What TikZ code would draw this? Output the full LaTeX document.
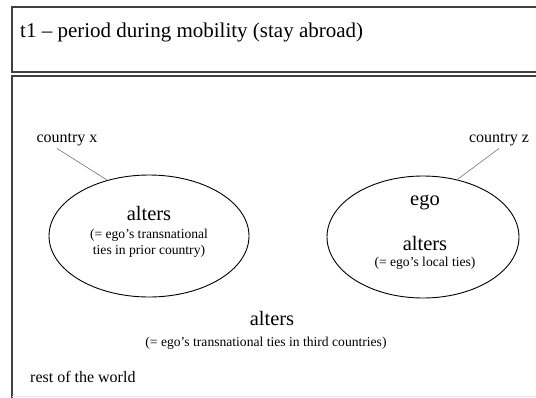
\documentclass[tikz,border=0pt]{standalone}
\usepackage{fontspec}
\setmainfont{Liberation Serif}
\usepackage{tikz}
\usetikzlibrary{shapes.geometric}
\definecolor{framegray}{gray}{.25}
\definecolor{leadgray}{gray}{.45}
\definecolor{fadegray}{gray}{.9}
\newcommand{\bigtxt}{\fontsize{20.5}{22}\selectfont}
\newcommand{\smalltxt}{\fontsize{13.6}{16.5}\selectfont}
\newcommand{\labeltxt}{\fontsize{16}{18}\selectfont}
\tikzset{
    panel/.style={draw=framegray, line width=1.3pt},
    country/.style={draw, ellipse, line width=0.9pt, inner sep=0pt},
    word/.style={inner sep=0pt, font=\bigtxt},
    note/.style={inner sep=0pt, align=center, font=\smalltxt},
    place/.style={inner sep=0pt, font=\labeltxt},
    leader/.style={draw=leadgray, line width=0.6pt}
}
\begin{document}
\begin{tikzpicture}[x=1pt, y=-1pt]
    \useasboundingbox (0,0) rectangle (536,397);
    \clip (0,0) rectangle (536,397);

    % the two panels
    \draw[panel] (12,7) rectangle (570,72);
    \draw[panel] (12,420) -- (12,76) -- (570,76);
    \draw[fadegray, line width=0.8pt] (12,396.5) -- (536,396.5);
    \node[anchor=west, inner sep=0pt, font=\fontsize{21}{22}\selectfont] (title) at (20,32) {t1 -- period during mobility (stay abroad)};

    % country x
    \node[country, minimum width=200pt, minimum height=122pt] (xell) at (149,236) {};
    \node[word] (xalters) at (149,213) {alters};
    \node[note] (xnote) at (149,243) {(= ego’s transnational\\ ties in prior country)};
    \node[place] (xlabel) at (67,140) {country x};
    \coordinate (xtip) at (107,180);

    % country z
    \node[country, minimum width=192pt, minimum height=122pt] (zell) at (423,237) {};
    \node[word] (ego) at (425,202) {ego};
    \node[word] (zalters) at (425,243) {alters};
    \node[note] (znote) at (425,263) {(= ego’s local ties)};
    \node[place] (zlabel) at (499,140) {country z};
    \coordinate (ztip) at (458,179);

    % rest of the world
    \node[word] (walters) at (272,318) {alters};
    \node[note] (wnote) at (266,343) {(= ego’s transnational ties in third countries)};
    \node[place, anchor=west] (world) at (30,377) {rest of the world};

    \draw[leader] ([xshift=-10pt, yshift=-2pt]xlabel.south) -- (xtip);
    \draw[leader] ([yshift=-2pt]zlabel.south) -- (ztip);
\end{tikzpicture}
\end{document}
